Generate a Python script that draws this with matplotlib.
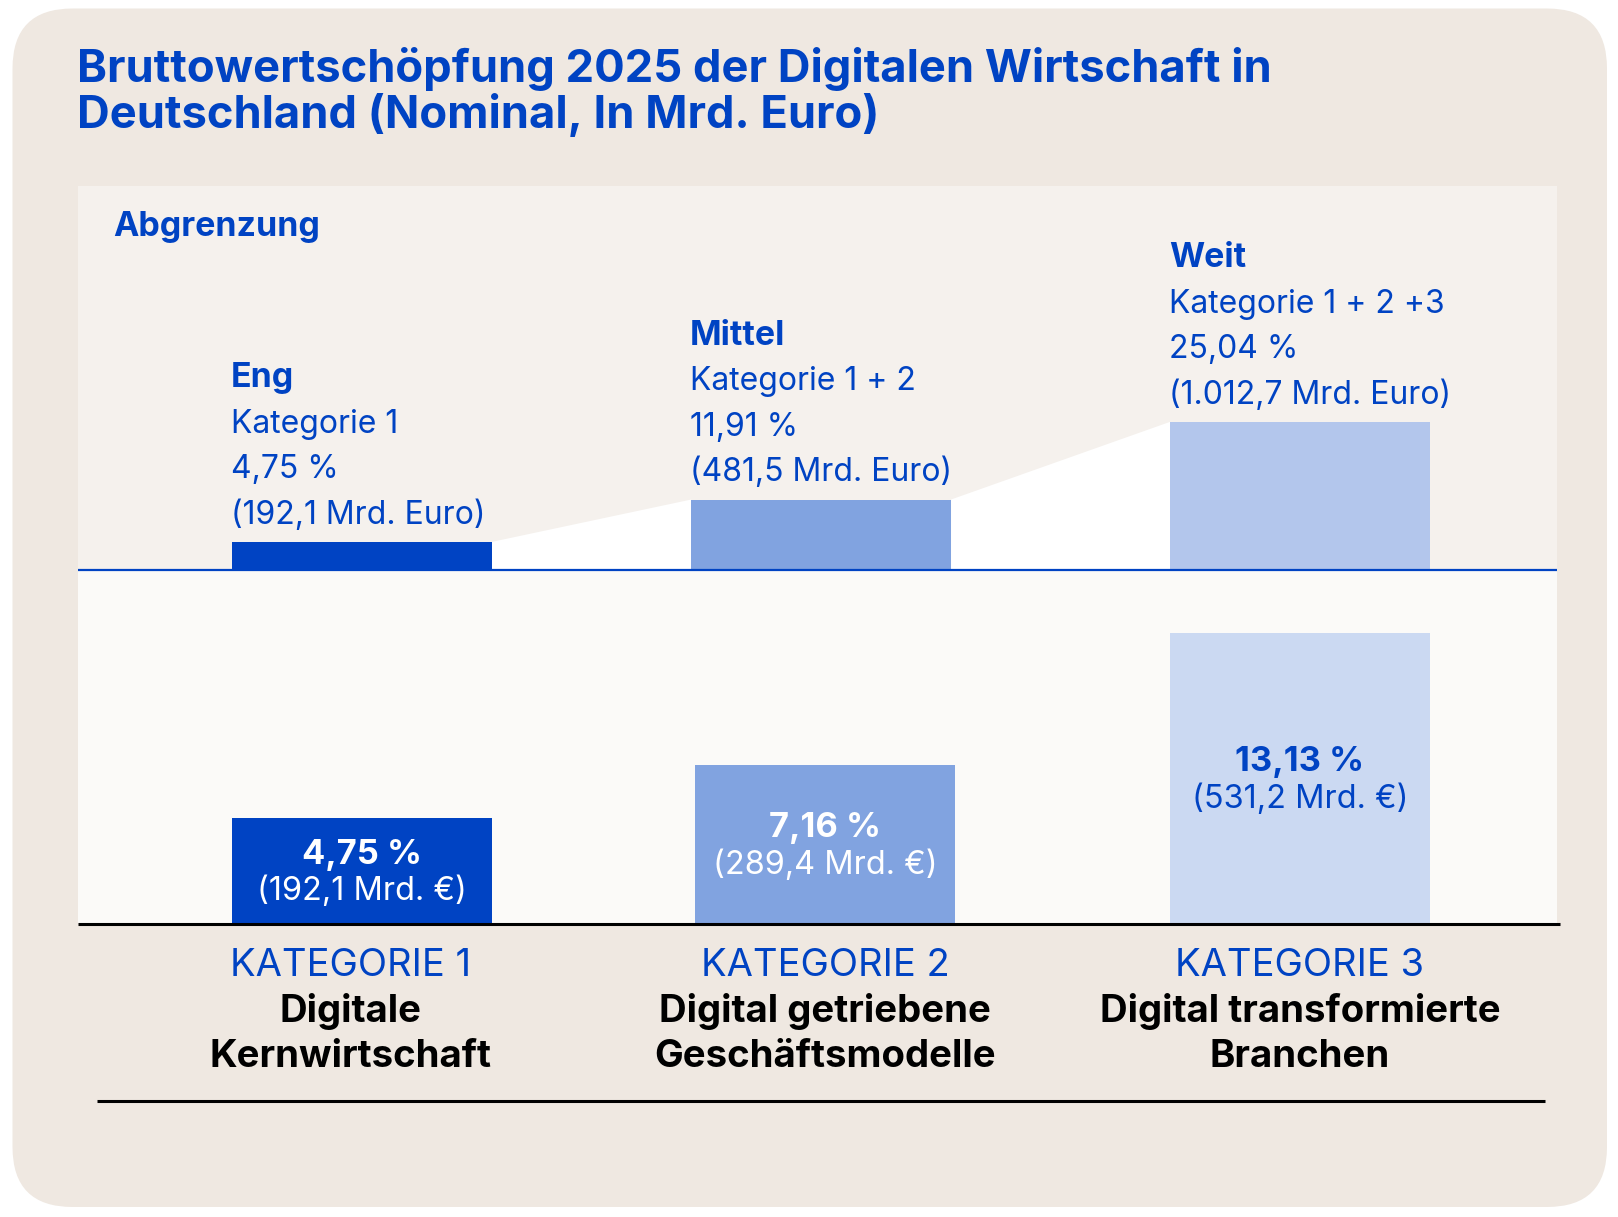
import matplotlib
matplotlib.use('Agg')
import matplotlib.pyplot as plt
from matplotlib.patches import FancyBboxPatch
from matplotlib.textpath import TextToPath
from matplotlib.font_manager import FontProperties

# Daten
levels = ['Eng', 'Mittel', 'Weit']
level_cats = ['Kategorie 1', 'Kategorie 1 + 2', 'Kategorie 1 + 2 +3']
level_share = [4.75, 11.91, 25.04]
level_eur = [192.1, 481.5, 1012.7]

cat_codes = ['KATEGORIE 1', 'KATEGORIE 2', 'KATEGORIE 3']
cat_names = [['Digitale', 'Kernwirtschaft'],
             ['Digital getriebene', 'Geschäftsmodelle'],
             ['Digital transformierte', 'Branchen']]
cat_share = [4.75, 7.16, 13.13]
cat_eur = [192.1, 289.4, 531.2]

title_lines = ['Bruttowertschöpfung 2025 der Digitalen Wirtschaft in',
               'Deutschland (Nominal, In Mrd. Euro)']

# Farben
BLUE = '#0043c3'
BOX = '#efe8e1'
PANEL_UP = '#f5f1ed'
PANEL_LO = '#fbfaf8'
level_colors = [BLUE, '#81a3e0', '#b3c6ec']
cat_colors = [BLUE, '#81a3e0', '#cbd9f2']
cat_text = ['white', 'white', BLUE]

FONT = 'Inter'
DPI = 100
W, H = 1618, 1217
ttp = TextToPath()


def fit(s, target_px, weight='normal'):
    """Schriftgroesse so waehlen, dass der Text target_px breit ist"""
    w, _, _ = ttp.get_text_width_height_descent(
        s, FontProperties(family=FONT, weight=weight, size=100), ismath=False)
    return 100 * target_px * 72 / DPI / w


def de(v, nd):
    s = f"{v:,.{nd}f}"
    return s.replace(',', 'X').replace('.', ',').replace('X', '.')


def frac(x0, y0, x1, y1):
    return [x0 / W, 1 - y1 / H, (x1 - x0) / W, (y1 - y0) / H]


def clean(ax):
    ax.set_xticks([])
    ax.set_yticks([])
    for sp in ax.spines.values():
        sp.set_visible(False)


title_fs = fit(title_lines[0], 1195, 'bold')
abg_fs = fit('Abgrenzung', 207, 'bold')
up_fs = fit('(192,1 Mrd. Euro)', 255)
upb_fs = fit('Mittel', 95, 'bold')
lob_fs = fit('4,75 %', 120, 'bold')
lo_fs = fit('(192,1 Mrd. €)', 210)
code_fs = fit('KATEGORIE 1', 241)
name_fs = fit('Kernwirtschaft', 282, 'bold')

fig = plt.figure(figsize=(W / DPI, H / DPI), dpi=DPI)
fig.patch.set_facecolor('white')

bg = fig.add_axes([0, 0, 1, 1])
bg.set_xlim(0, W)
bg.set_ylim(H, 0)
bg.axis('off')
bg.add_patch(FancyBboxPatch((12.5, 8.5), 1594.5, 1198.5,
                            boxstyle='round,pad=0,rounding_size=60',
                            fc=BOX, ec='none'))

for k, line in enumerate(title_lines):
    bg.text(77.5, 81.7 + 46 * k, line, fontsize=title_fs, fontweight='bold',
            color=BLUE, family=FONT, va='baseline', ha='left')

# Balkenpositionen (Abstand 469 px, erster Mittelpunkt bei 362 px)
xlim = ((77.7 - 362) / 469, (1557 - 362) / 469)
up_pos = [0, 0.979, 2]
lo_pos = [0, 0.987, 2]
bw = 0.554

# oberer Bereich: Abgrenzungen
up = fig.add_axes(frac(77.7, 186, 1557, 570))
clean(up)
up.set_facecolor(PANEL_UP)
up.set_xlim(*xlim)
up.set_ylim(0, 64.9)
for i in range(len(levels) - 1):
    xs = [up_pos[i] + bw / 2, up_pos[i + 1] - bw / 2,
          up_pos[i + 1] - bw / 2, up_pos[i] + bw / 2]
    ys = [level_share[i], level_share[i + 1], 0, 0]
    up.fill(xs, ys, color='white', lw=0, zorder=2)
up.bar(up_pos, level_share, width=bw, color=level_colors, zorder=3)
up.annotate('Abgrenzung', xy=(0, 1), xycoords='axes fraction',
            xytext=(35.6 * 0.72, -50 * 0.72), textcoords='offset points',
            fontsize=abg_fs, fontweight='bold', color=BLUE, family=FONT,
            ha='left', va='baseline')

for i, name in enumerate(levels):
    lines = [(name, 'bold', upb_fs, 111.6),
             (level_cats[i], 'normal', up_fs, 78.7),
             (de(level_share[i], 2) + ' %', 'normal', up_fs, 45.9),
             ('(' + de(level_eur[i], 1) + ' Mrd. Euro)', 'normal', up_fs, 13.2)]
    for txt, wt, fs, off in lines:
        up.annotate(txt, xy=(up_pos[i] - bw / 2, level_share[i]),
                    xytext=(-1, off), textcoords='offset points',
                    ha='left', va='baseline', color=BLUE, fontsize=fs,
                    fontweight=wt, family=FONT, annotation_clip=False)

# unterer Bereich: Kategorien
lo = fig.add_axes(frac(77.7, 570, 1557, 922.5))
clean(lo)
lo.set_facecolor(PANEL_LO)
lo.set_xlim(*xlim)
lo.set_ylim(0, 16)
lo.bar(lo_pos, cat_share, width=bw, color=cat_colors, zorder=3)
for i, v in enumerate(cat_share):
    lo.annotate(de(v, 2) + ' %', xy=(lo_pos[i], v / 2), xytext=(0, 4.6),
                textcoords='offset points', ha='center', va='baseline',
                color=cat_text[i], fontsize=lob_fs, fontweight='bold', family=FONT)
    lo.annotate('(' + de(cat_eur[i], 1) + ' Mrd. €)', xy=(lo_pos[i], v / 2),
                xytext=(0, -21.8), textcoords='offset points', ha='center',
                va='baseline', color=cat_text[i], fontsize=lo_fs, family=FONT)

# Kategorie-Beschriftungen
label_x = [351, 825, 1300]
for i, code in enumerate(cat_codes):
    bg.text(label_x[i], 976, code, fontsize=code_fs, color=BLUE, family=FONT,
            ha='center', va='baseline')
    for k, part in enumerate(cat_names[i]):
        bg.text(label_x[i], 1021.7 + 45.6 * k, part, fontsize=name_fs,
                fontweight='bold', color='black', family=FONT,
                ha='center', va='baseline')

# Linien ueber allen Achsen
line_ax = fig.add_axes([0, 0, 1, 1], zorder=10)
line_ax.set_xlim(0, W)
line_ax.set_ylim(H, 0)
line_ax.axis('off')
line_ax.plot([77.7, 1557], [570, 570], color=BLUE, lw=1.6, solid_capstyle='butt')
line_ax.plot([77.7, 1560], [924, 924], color='black', lw=2.2, solid_capstyle='butt')
line_ax.plot([97, 1545], [1100.7, 1100.7], color='black', lw=2.2, solid_capstyle='butt')

fig.savefig('out.png', dpi=DPI)
